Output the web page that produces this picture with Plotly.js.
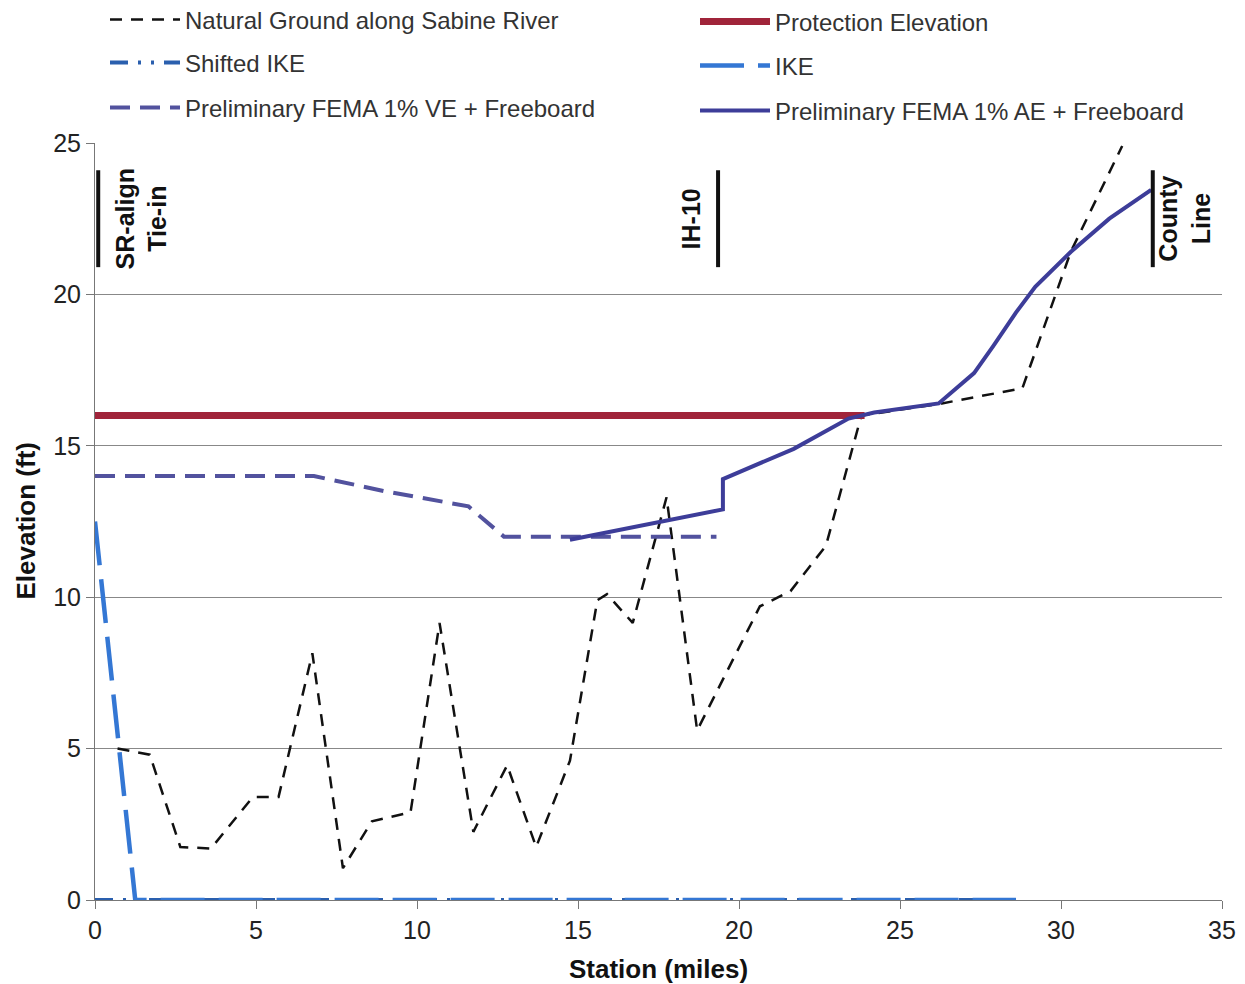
<!DOCTYPE html>
<html>
<head>
<meta charset="utf-8">
<script src="https://cdn.plot.ly/plotly-3.0.1.min.js"></script>
<style>html,body{margin:0;padding:0;background:#fff;}#chart{width:1245px;height:984px;}</style>
</head>
<body>
<div id="chart"></div>
<script>
// Natural ground along Sabine River
const groundX = [0.7, 1.7, 2.65, 3.6, 4.9, 5.7, 6.75, 7.7, 8.6, 9.8, 10.7, 11.75, 12.8, 13.7, 14.75, 15.6, 15.9, 16.7, 17.75, 18.7, 20.65, 21.6, 22.7, 23.8, 26.3, 28.8, 30.3, 31.9];
const groundY = [5.0, 4.8, 1.75, 1.7, 3.4, 3.4, 8.15, 1.05, 2.6, 2.9, 9.15, 2.25, 4.45, 1.75, 4.6, 9.9, 10.1, 9.15, 13.3, 5.6, 9.7, 10.2, 11.7, 16.0, 16.4, 16.9, 21.4, 24.9];
// Protection elevation
const protX = [0, 23.9];
const protY = [16, 16];
// Shifted IKE
const shiftedIkeX = [0, 28.6];
const shiftedIkeY = [0, 0];
// IKE
const ikeX = [0, 1.25, 28.6];
const ikeY = [12.5, 0, 0];
// Preliminary FEMA 1% VE + Freeboard
const veX = [0, 6.8, 9.0, 11.6, 12.7, 19.3];
const veY = [14, 14, 13.5, 13.0, 12.0, 12.0];
// Preliminary FEMA 1% AE + Freeboard
const aeX = [14.75, 19.5, 19.5, 21.7, 23.4, 24.2, 26.2, 27.3, 27.9, 28.6, 29.2, 30.3, 31.5, 32.8];
const aeY = [11.9, 12.9, 13.9, 14.9, 15.9, 16.1, 16.4, 17.4, 18.3, 19.4, 20.25, 21.4, 22.5, 23.45];
// Markers
const markerNames = ["SR-align<br>Tie-in", "IH-10", "County<br>Line"];
const markerX = [0.1, 19.35, 32.85];
const markerLabelX = [1.45, 18.5, 33.85];
const markerY0 = 20.9, markerY1 = 24.1, markerLabelY = 22.5;
const xTicks = [0, 5, 10, 15, 20, 25, 30, 35];
const yTicks = [0, 5, 10, 15, 20, 25];
const yTitle = "Elevation (ft)";

const traces = [
  {x: groundX, y: groundY, name: "Natural Ground along Sabine River", mode: "lines", legend: "legend",
   line: {color: "#111", width: 2.5, dash: "12px,9px"}},
  {x: protX, y: protY, name: "Protection Elevation", mode: "lines", legend: "legend2",
   line: {color: "#a0243a", width: 7}},
  {x: shiftedIkeX, y: shiftedIkeY, name: "Shifted IKE", mode: "lines", legend: "legend3",
   line: {color: "#2a5fae", width: 4, dash: "18px,10px,3px,10px,3px,10px"}},
  {x: ikeX, y: ikeY, name: "IKE", mode: "lines", legend: "legend4",
   line: {color: "#3477d4", width: 4.5, dash: "44px,14px"}},
  {x: veX, y: veY, name: "Preliminary FEMA 1% VE + Freeboard", mode: "lines", legend: "legend5",
   line: {color: "#52529e", width: 4, dash: "20px,10px"}},
  {x: aeX, y: aeY, name: "Preliminary FEMA 1% AE + Freeboard", mode: "lines", legend: "legend6",
   line: {color: "#3d3d99", width: 4}}
];

const shapes = markerX.map(v => ({type: "line", xref: "x", yref: "y", x0: v, x1: v, y0: markerY0, y1: markerY1,
  line: {color: "#111", width: 4}}));
const annotations = markerNames.map((t, i) => ({x: markerLabelX[i], y: markerLabelY, xref: "x", yref: "y",
  text: "<b>" + t + "</b>", textangle: -90, showarrow: false, font: {size: 25, color: "#111", family: "Liberation Sans, Arial"}}));
annotations.push({x: -70 / 1127, y: 0.5, xref: "paper", yref: "paper", xanchor: "center", yanchor: "middle",
  text: "<b>" + yTitle + "</b>", textangle: -90, showarrow: false, font: {size: 26, color: "#111"}});

function legendAt(leftPx, rowY) {
  return {orientation: "v", xref: "container", yref: "container", x: leftPx / 1245, xanchor: "left",
    y: 1 - rowY / 984, yanchor: "middle", itemwidth: 70,
    font: {size: 24, color: "#333"}, bgcolor: "rgba(0,0,0,0)"};
}

const layout = {
  width: 1245, height: 984,
  margin: {l: 95, r: 23, t: 143, b: 84, autoexpand: false},
  paper_bgcolor: "#fff", plot_bgcolor: "#fff",
  font: {family: "Liberation Sans, Arial, sans-serif", size: 24, color: "#222"},
  showlegend: true,
  legend: legendAt(105, 20),
  legend2: legendAt(695, 22),
  legend3: legendAt(105, 63),
  legend4: legendAt(695, 66),
  legend5: legendAt(105, 108),
  legend6: legendAt(695, 111),
  xaxis: {range: [0, 35], tickvals: xTicks, showgrid: false, zeroline: false, showline: true, linecolor: "#777",
    ticks: "outside", ticklen: 8, tickcolor: "#777", tickfont: {size: 25},
    title: {text: "<b>Station (miles)</b>", font: {size: 26, color: "#111"}}},
  yaxis: {range: [0, 25], tickvals: yTicks, showgrid: true, gridcolor: "#888", gridwidth: 1.2, zeroline: false,
    showline: true, linecolor: "#777", ticks: "outside", ticklen: 8, tickcolor: "#777", tickfont: {size: 25}},
  shapes: shapes,
  annotations: annotations
};

Plotly.newPlot("chart", traces, layout, {displayModeBar: false, staticPlot: true});
</script>
</body>
</html>
